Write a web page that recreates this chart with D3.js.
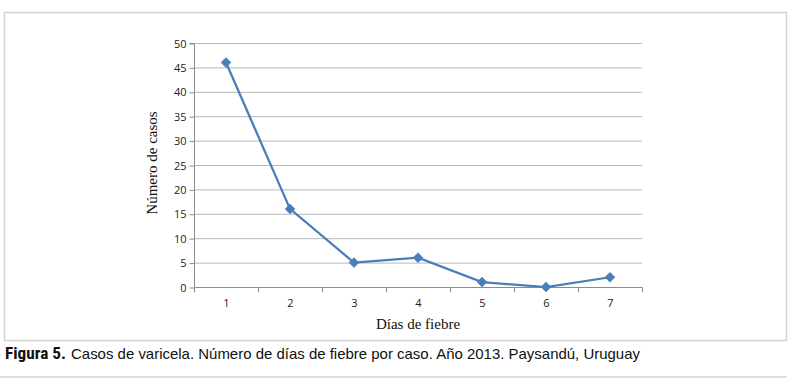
<!DOCTYPE html>
<html><head><meta charset="utf-8">
<script src="https://cdn.jsdelivr.net/npm/d3@7/dist/d3.min.js"></script>
<style>body{margin:0;background:#fff;}</style>
</head><body>
<svg id="c" width="800" height="381"></svg>
<script>
const categories = ["1","2","3","4","5","6","7"];
const values = [46, 16, 5, 6, 1, 0, 2];
const yTicks = [0,5,10,15,20,25,30,35,40,45,50];
const caption = "Casos de varicela. Número de días de fiebre por caso. Año 2013. Paysandú, Uruguay";

const svg = d3.select("#c");
// frame
svg.append("rect").attr("x",4.5).attr("y",12.5).attr("width",782).attr("height",328)
  .attr("fill","#fff").attr("stroke","#d4d4d4").attr("stroke-width",1.5);
svg.append("line").attr("x1",0).attr("x2",787).attr("y1",377).attr("y2",377)
  .attr("stroke","#d4d4d4").attr("stroke-width",1.5);

const L=194, R=642, T=43, B=287;
const x = d3.scaleBand().domain(categories).range([L,R]);
const y = d3.scaleLinear().domain([0,50]).range([B,T]);

// gridlines
svg.append("g").selectAll("line").data(yTicks.filter(d=>d>0)).join("line")
  .attr("x1",L).attr("x2",R).attr("y1",d=>y(d)+0.5).attr("y2",d=>y(d)+0.5)
  .attr("stroke","#b8b8b8").attr("stroke-width",1);

// y axis
const ya = svg.append("g").attr("transform",`translate(${L+0.5},0.5)`)
  .call(d3.axisLeft(y).tickValues(yTicks).tickSize(5).tickPadding(3));
ya.select(".domain").attr("stroke","#8c8c8c").attr("d",`M-5,${T}H0V${B}`);
ya.selectAll(".tick line").attr("stroke","#8c8c8c");
ya.selectAll("text").attr("font-family","'Open Sans', 'Liberation Sans', sans-serif").attr("font-size",11).attr("fill","#222");

// x axis
const xa = svg.append("g").attr("transform",`translate(0.5,${B+0.5})`);
xa.append("line").attr("x1",L).attr("x2",R).attr("stroke","#8c8c8c");
const bounds = categories.map(c=>x(c)).concat([R]);
xa.selectAll("line.t").data(bounds).join("line").attr("class","t")
  .attr("x1",d=>d).attr("x2",d=>d).attr("y1",0).attr("y2",5).attr("stroke","#8c8c8c");
xa.selectAll("text").data(categories).join("text")
  .attr("x",d=>x(d)+x.bandwidth()/2).attr("y",19).attr("text-anchor","middle")
  .attr("font-family","'Open Sans', 'Liberation Sans', sans-serif").attr("font-size",11).attr("fill","#222")
  .text(d=>d);

// axis titles
svg.append("text").attr("x",(L+R)/2).attr("y",329).attr("text-anchor","middle")
  .attr("font-family","'Liberation Serif', 'Times New Roman', serif").attr("font-size",15).attr("fill","#111")
  .text("Días de fiebre");
svg.append("text").attr("transform",`translate(157,${(T+B)/2-2}) rotate(-90)`).attr("text-anchor","middle")
  .attr("font-family","'Liberation Serif', 'Times New Roman', serif").attr("font-size",15).attr("fill","#111")
  .text("Número de casos");

// line
const pts = categories.map((c,i)=>[x(c)+x.bandwidth()/2, y(values[i])]);
svg.append("path").attr("d",d3.line()(pts)).attr("fill","none")
  .attr("stroke","#4a7ebb").attr("stroke-width",2.25);
svg.append("g").selectAll("path").data(pts).join("path")
  .attr("transform",d=>`translate(${d[0]},${d[1]})`)
  .attr("d","M0,-5L5,0L0,5L-5,0Z")
  .attr("fill","#4a7ebb").attr("stroke","#4a7ebb").attr("stroke-width",0.5);

// caption
svg.append("text").attr("x",5).attr("y",359).attr("fill","#111")
  .attr("font-family","'Liberation Sans Narrow', 'Roboto Condensed', 'Arial Narrow', 'Liberation Sans', sans-serif")
  .attr("font-size",17).attr("font-weight","bold")
  .attr("textLength",61).attr("lengthAdjust","spacingAndGlyphs")
  .text("Figura 5.");
svg.append("text").attr("x",71).attr("y",359).attr("fill","#111")
  .attr("font-family","'Liberation Sans', Arial, sans-serif")
  .attr("font-size",15)
  .attr("textLength",569).attr("lengthAdjust","spacingAndGlyphs")
  .text(caption);
</script>
</body></html>
